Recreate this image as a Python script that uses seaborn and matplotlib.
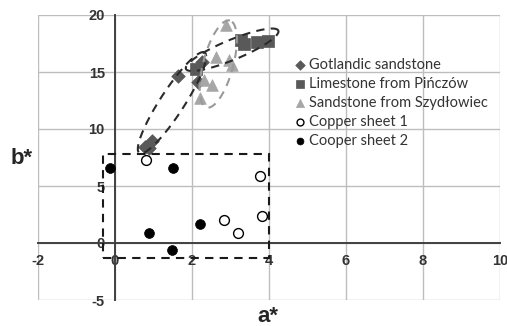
import numpy as np
import pandas as pd
import matplotlib
matplotlib.use("Agg")
import matplotlib.pyplot as plt
import seaborn as sns
from matplotlib.patches import Rectangle

# ---- data ----
got_a = [0.80, 0.89, 0.97, 1.64, 2.16, 2.26]
got_b = [8.4, 8.3, 8.95, 14.65, 14.15, 15.85]
lim_a = [2.10, 3.27, 3.36, 3.69, 3.99]
lim_b = [15.3, 17.8, 17.5, 17.6, 17.7]
szy_a = [2.90, 2.63, 2.98, 3.04, 2.33, 2.52, 2.22]
szy_b = [19.1, 16.35, 16.05, 15.6, 14.3, 13.85, 12.7]
cu1_a = [0.82, 3.77, 3.82, 2.84, 3.19]
cu1_b = [7.3, 5.9, 2.4, 2.05, 0.9]
cu2_a = [-0.13, 1.52, 0.89, 2.22, 1.50]
cu2_b = [6.6, 6.6, 0.85, 1.64, -0.6]

labels = ["Gotlandic sandstone", "Limestone from Pińczów",
          "Sandstone from Szydłowiec", "Copper sheet 1", "Cooper sheet 2"]

x_ticks = [-2, 0, 2, 4, 6, 8, 10]
y_ticks = [-5, 0, 5, 10, 15, 20]

sns.set_theme(style="white")
plt.rcParams["font.family"] = ["Lato", "DejaVu Sans"]

fig = plt.figure(figsize=(5.07, 3.26), dpi=100)
ax = fig.add_axes([37.5 / 507, 26 / 326, 462.5 / 507, 285 / 326])

dark = "#595959"
light = "#a6a6a6"

sns.scatterplot(x=got_a, y=got_b, marker="D", s=48, color=dark, edgecolor=dark,
                linewidth=0.5, ax=ax, label=labels[0], zorder=3)
sns.scatterplot(x=lim_a, y=lim_b, marker="s", s=65, color=dark, edgecolor=dark,
                linewidth=0.5, ax=ax, label=labels[1], zorder=3)
sns.scatterplot(x=szy_a, y=szy_b, marker="^", s=70, color=light, edgecolor=light,
                linewidth=0.5, ax=ax, label=labels[2], zorder=3)
sns.scatterplot(x=cu1_a, y=cu1_b, marker="o", s=50, color="white", edgecolor="black",
                linewidth=1.0, ax=ax, label=labels[3], zorder=3)
sns.scatterplot(x=cu2_a, y=cu2_b, marker="o", s=50, color="black", edgecolor="black",
                linewidth=0.5, ax=ax, label=labels[4], zorder=3)

# axes crossing at zero (set before the tick labels, as this resets ticks)
for s in ["top", "right"]:
    ax.spines[s].set_visible(False)
ax.spines["left"].set_position(("data", 0))
ax.spines["bottom"].set_position(("data", 0))
for s in ["left", "bottom"]:
    ax.spines[s].set_color("#404040")
    ax.spines[s].set_linewidth(1.4)
    ax.spines[s].set_zorder(2)
ax.tick_params(axis="both", direction="out", length=4, width=1.2, color="#404040")
ax.tick_params(axis="x", pad=4)
ax.tick_params(axis="y", pad=3)

tick_font = dict(fontweight="bold", family=["Liberation Sans", "DejaVu Sans"],
                 fontsize=10.5, color="#333333")
ax.set_xticks(x_ticks, labels=[str(v) for v in x_ticks], **tick_font)
ax.set_yticks(y_ticks, labels=[str(v) for v in y_ticks], **tick_font)
ax.set_xlim(-2, 10)
ax.set_ylim(-5, 20)
ax.grid(True, color="#bdbdbd", linewidth=1.0, zorder=0)

# annotation shapes (scale: px per unit)
sx = 462.5 / 12
sy = 285 / 25


def ellipse(cx, cy, a_px, b_px, ang, color):
    t = np.linspace(0, 2 * np.pi, 300)
    th = np.deg2rad(ang)
    u, v = a_px * np.cos(t), b_px * np.sin(t)
    dx = u * np.cos(th) - v * np.sin(th)
    dy = u * np.sin(th) + v * np.cos(th)
    ax.plot(cx + dx / sx, cy + dy / sy, color=color, lw=1.5,
            linestyle=(0, (4, 3)), zorder=4)


ellipse(1.49, 12.3, 60, 12, 57, "#2b2b2b")
ellipse(3.05, 16.95, 50, 10, 22.5, "#2b2b2b")
ellipse(2.69, 15.7, 45, 15, 75, "#9a9a9a")

ax.add_patch(Rectangle((-0.29, -1.35), 4.29, 9.15, fill=False, edgecolor="#1a1a1a",
                       lw=1.5, linestyle=(0, (4, 3)), zorder=4))

ax.set_xlabel("")
ax.set_ylabel("")
fig.text(22 / 507, 1 - 158 / 326, "b*", fontsize=16, fontweight="bold",
         family=["Liberation Sans", "DejaVu Sans"],
         color="#262626", ha="center", va="center")
fig.text(268 / 507, 1 - 316 / 326, "a*", fontsize=16, fontweight="bold",
         family=["Liberation Sans", "DejaVu Sans"],
         color="#262626", ha="center", va="center")

leg = ax.legend(loc="upper left", bbox_to_anchor=(0.54, 0.87), frameon=False,
                fontsize=10.5, handletextpad=0.1, handlelength=1.0,
                labelspacing=0.35, borderaxespad=0, markerscale=0.7)
for txt in leg.get_texts():
    txt.set_color("#333333")

fig.savefig("out.png", dpi=100)
